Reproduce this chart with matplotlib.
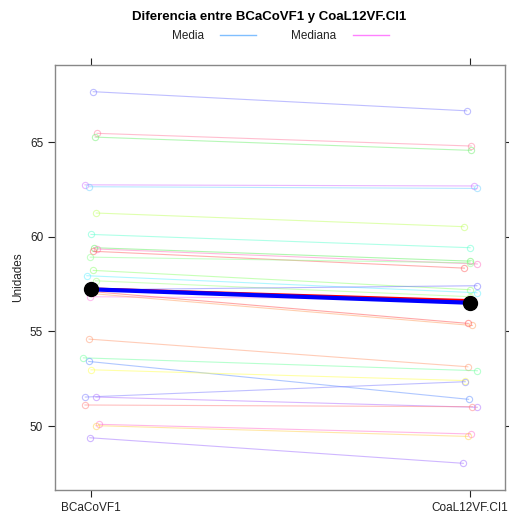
import matplotlib
matplotlib.use("Agg")
import matplotlib.pyplot as plt
from matplotlib.lines import Line2D

plt.rcParams["font.family"] = ["Liberation Sans", "DejaVu Sans"]

# Valores por sujeto (lectura aproximada del gráfico)
condiciones = ["BCaCoVF1", "CoaL12VF.CI1"]
valores_izq = [67.66, 65.46, 65.26, 62.74, 62.64, 61.25, 60.12, 59.42, 59.35, 59.23,
               58.92, 58.22, 57.94, 57.67, 56.83, 57.20, 57.00, 57.10, 54.59, 53.60,
               53.41, 52.97, 51.53, 51.53, 51.11, 50.09, 50.02, 49.38]
valores_der = [66.65, 64.79, 64.56, 62.68, 62.55, 60.53, 59.42, 58.71, 58.56, 58.34,
               58.62, 57.20, 57.04, 56.83, 56.70, 57.41, 55.31, 55.42, 53.13, 52.92,
               51.41, 52.40, 52.34, 50.99, 51.02, 49.58, 49.45, 48.03]
jitter_izq = [0.006, 0.016, 0.011, -0.016, -0.005, 0.014, 0.0, 0.007, 0.016, 0.006,
              -0.002, 0.006, -0.011, 0.012, -0.003, 0.0, 0.0, 0.003, -0.005, -0.02,
              -0.006, 0.0, -0.015, 0.013, -0.016, 0.02, 0.013, -0.003]
jitter_der = [-0.009, 0.003, 0.003, 0.01, 0.017, -0.016, 0.0, 0.0, 0.019, -0.015,
              0.0, 0.0, 0.018, 0.0, 0.0, 0.018, 0.006, -0.005, -0.006, 0.019,
              -0.004, -0.013, -0.013, 0.019, 0.006, 0.001, -0.006, -0.018]
colores = ["#7f7fff", "#ff7fa0", "#70f070", "#d070ff", "#70d0ff", "#c0ff60", "#60ffd0",
           "#60f060", "#ff70c0", "#ff6060", "#90ff90", "#90ff70", "#60f0ff", "#a0ff80",
           "#ff80e0", "#7070ff", "#ffa060", "#ff5050", "#ff9a70", "#70ffa0", "#6090ff",
           "#ffff50", "#8080ff", "#b070ff", "#ff8080", "#ff70d0", "#ffd050", "#a070ff"]

media = [57.22, 56.51]
mediana = [57.24, 56.62]

fig = plt.figure(figsize=(5.1, 5.14), dpi=100)
ax = fig.add_axes([55 / 510, 24 / 514, 450 / 510, 425 / 514])

for yi, yd, ji, jd, c in zip(valores_izq, valores_der, jitter_izq, jitter_der, colores):
    ax.plot([1 + ji, 2 + jd], [yi, yd], color=c, lw=0.8, alpha=0.5,
            marker="o", mfc="none", mec=c, ms=4.5, mew=0.8)

ax.plot([1, 2], mediana, color="#ff0000", lw=2.2, zorder=5)
ax.plot([1, 2], media, color="#0000ff", lw=3, zorder=6)
ax.plot([1, 2], media, "o", color="black", ms=10, zorder=7)

ax.set_xlim(0.905, 2.092)
ax.set_ylim(46.62, 69.07)
ax.set_xticks([1, 2])
ax.set_xticklabels(condiciones)
ax.set_yticks([50, 55, 60, 65])
ax.tick_params(direction="out", length=5, width=0.8, color="#222222",
               labelsize=8.5, labelcolor="#222222",
               top=True, right=True, labeltop=False, labelright=False)
for s in ax.spines.values():
    s.set_color("#888888")
    s.set_linewidth(1)

ax.set_ylabel("Unidades", fontsize=8.5, color="#222222", labelpad=4)

fig.text(269 / 510, 1 - 17 / 514, "Diferencia entre BCaCoVF1 y CoaL12VF.CI1",
         ha="center", va="center", fontsize=9.5, fontweight="bold")

# leyenda superior
fig.text(188 / 510, 1 - 36 / 514, "Media", ha="center", va="center", fontsize=8.5, color="#222222")
fig.text(314 / 510, 1 - 36 / 514, "Mediana", ha="center", va="center", fontsize=8.5, color="#222222")
fig.add_artist(Line2D([220 / 510, 256 / 510], [1 - 35 / 514] * 2, color="#80bfff", lw=1,
                      transform=fig.transFigure))
fig.add_artist(Line2D([353 / 510, 389 / 510], [1 - 35 / 514] * 2, color="#ff80ff", lw=1,
                      transform=fig.transFigure))

fig.savefig("out.png", dpi=100)
